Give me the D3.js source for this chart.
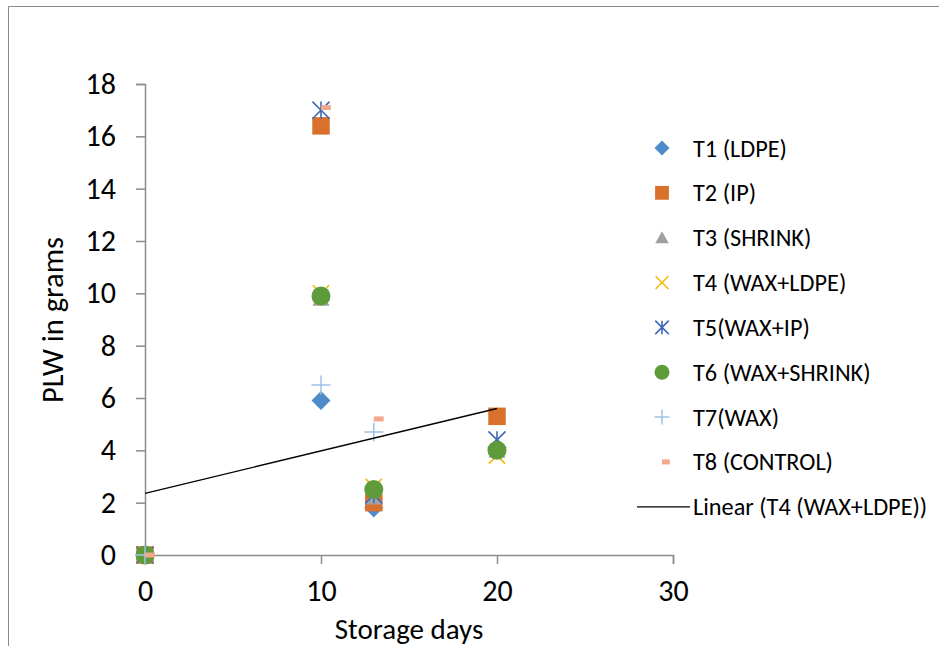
<!DOCTYPE html>
<html>
<head>
<meta charset="utf-8">
<script src="https://cdn.jsdelivr.net/npm/d3@7"></script>
<style>
  html, body { margin: 0; padding: 0; background: #fff; }
  svg { display: block; }
  text { font-family: Carlito, Lato, "Open Sans", sans-serif; fill: #000; }
</style>
</head>
<body>
<svg id="chart" width="939" height="646"></svg>
<script>
// Storage days at which weight loss was recorded
const days = [0, 10, 13, 20];

// Physiological loss in weight (g) per treatment; null = not recorded
const t1 = [0, 5.9, 1.8, 4.1];
const t2 = [0, 16.4, 2.0, 5.3];
const t3 = [0, 9.8, 2.2, 4.0];
const t4 = [0, 10.0, 2.6, 3.8];
const t5 = [0, 17.0, 2.3, 4.4];
const t6 = [0, 9.9, 2.5, 4.0];
const t7 = [0, 6.5, 4.7, null];
const t8 = [0, 17.1, 5.2, null];

const seriesNames = ["T1 (LDPE)", "T2 (IP)", "T3 (SHRINK)", "T4 (WAX+LDPE)",
  "T5(WAX+IP)", "T6 (WAX+SHRINK)", "T7(WAX)", "T8 (CONTROL)"];
const trendName = "Linear (T4 (WAX+LDPE))";

const xTicks = [0, 10, 20, 30];
const yTicks = [0, 2, 4, 6, 8, 10, 12, 14, 16, 18];

const seriesValues = [t1, t2, t3, t4, t5, t6, t7, t8];
const markerKinds = ["diamond", "square", "triangle", "cross", "star", "circle", "plus", "dash"];
const colors = ["#4f8bc9", "#d9702c", "#a0a0a0", "#f2b600", "#4169b8", "#5f9b3b", "#9dc3e6", "#f2a88c"];

const svg = d3.select("#chart");

// outer chart frame
svg.append("path")
  .attr("d", "M8.5,646 V6.5 H939")
  .attr("fill", "none").attr("stroke", "#8a8a8a").attr("stroke-width", 1);

const x = d3.scaleLinear().domain([0, 30]).range([145, 673]);
const y = d3.scaleLinear().domain([0, 18]).range([555, 84]);

const axisColor = "#8c8c8c";

// y axis
const gy = svg.append("g").attr("transform", `translate(${x(0)},0)`)
  .call(d3.axisLeft(y).tickValues(yTicks).tickSize(9).tickPadding(20).tickFormat(d3.format("d")));
// x axis
const gx = svg.append("g").attr("transform", `translate(0,${y(0)})`)
  .call(d3.axisBottom(x).tickValues(xTicks).tickSize(9).tickPadding(16).tickFormat(d3.format("d")));

[gx, gy].forEach(g => {
  g.select(".domain").attr("stroke", axisColor).attr("stroke-width", 1.5);
  g.selectAll(".tick line").attr("stroke", axisColor).attr("stroke-width", 1.5);
  g.selectAll(".tick text").style("font-size", "30px").attr("fill", "#000")
    .style("font-family", "Carlito, Lato, sans-serif");
});

// axis titles
svg.append("text")
  .attr("x", 409).attr("y", 639)
  .attr("text-anchor", "middle")
  .style("font-size", "29px")
  .text("Storage days");

svg.append("text")
  .attr("transform", "translate(63,320) rotate(-90)")
  .attr("text-anchor", "middle")
  .style("font-size", "30.5px")
  .text("PLW in grams");

// marker drawing
function drawMarker(g, kind, color, s) {
  // s = overall marker extent in px
  const h = s / 2;
  switch (kind) {
    case "diamond":
      g.append("path").attr("d", `M0,${-h} L${h},0 L0,${h} L${-h},0 Z`).attr("fill", color);
      break;
    case "square":
      g.append("rect").attr("x", -h * 0.92).attr("y", -h * 0.92)
        .attr("width", s * 0.92).attr("height", s * 0.92).attr("fill", color);
      break;
    case "triangle":
      g.append("path").attr("d", `M0,${-h * 0.85} L${h * 0.9},${h * 0.75} L${-h * 0.9},${h * 0.75} Z`).attr("fill", color);
      break;
    case "cross":
      g.append("path").attr("d", `M${-h * 0.85},${-h * 0.85} L${h * 0.85},${h * 0.85} M${h * 0.85},${-h * 0.85} L${-h * 0.85},${h * 0.85}`)
        .attr("stroke", color).attr("stroke-width", 1.5).attr("fill", "none");
      break;
    case "star":
      g.append("path").attr("d", `M${-h * 0.9},${-h * 0.9} L${h * 0.9},${h * 0.9} M${h * 0.9},${-h * 0.9} L${-h * 0.9},${h * 0.9} M0,${-h * 0.9} L0,${h * 0.9}`)
        .attr("stroke", color).attr("stroke-width", 1.6).attr("fill", "none");
      break;
    case "circle":
      g.append("circle").attr("r", h).attr("fill", color);
      break;
    case "plus":
      g.append("path").attr("d", `M${-h},0 L${h},0 M0,${-h} L0,${h}`)
        .attr("stroke", color).attr("stroke-width", 1.5).attr("fill", "none");
      break;
    case "dash":
      g.append("rect").attr("x", 0).attr("y", -2.5).attr("width", s * 0.52).attr("height", 5).attr("fill", color);
      break;
  }
}

// scatter points, drawn series by series (later series on top)
const plot = svg.append("g");
seriesValues.forEach((vals, i) => {
  const pts = days.map((d, j) => ({ d, v: vals[j] })).filter(p => p.v !== null);
  pts.forEach(p => {
    const g = plot.append("g").attr("transform", `translate(${x(p.d)},${y(p.v)})`);
    drawMarker(g, markerKinds[i], colors[i], 19);
  });
});

// least-squares trend line for T4
const pairs = days.map((d, j) => [d, t4[j]]).filter(p => p[1] !== null);
const mx = d3.mean(pairs, p => p[0]);
const my = d3.mean(pairs, p => p[1]);
const slope = d3.sum(pairs, p => (p[0] - mx) * (p[1] - my)) / d3.sum(pairs, p => (p[0] - mx) ** 2);
const intercept = my - slope * mx;
const trendX = d3.extent(pairs, p => p[0]);
svg.append("line")
  .attr("x1", x(trendX[0])).attr("y1", y(intercept + slope * trendX[0]))
  .attr("x2", x(trendX[1])).attr("y2", y(intercept + slope * trendX[1]))
  .attr("stroke", "#000").attr("stroke-width", 1.3);

// legend
const legend = svg.append("g");
const rowStep = 44.85;
const row0 = 148;
seriesNames.forEach((name, i) => {
  const cy = row0 + i * rowStep;
  const g = legend.append("g").attr("transform", `translate(662,${cy})`);
  drawMarker(g, markerKinds[i], colors[i], 15);
  legend.append("text").attr("x", 693).attr("y", cy + 8.5)
    .style("font-size", "24.3px").text(name);
});
const trendRow = row0 + seriesNames.length * rowStep;
legend.append("line")
  .attr("x1", 637).attr("x2", 690).attr("y1", trendRow).attr("y2", trendRow)
  .attr("stroke", "#000").attr("stroke-width", 1.3);
legend.append("text").attr("x", 693).attr("y", trendRow + 8.5)
  .style("font-size", "24.3px").text(trendName);
</script>
</body>
</html>
